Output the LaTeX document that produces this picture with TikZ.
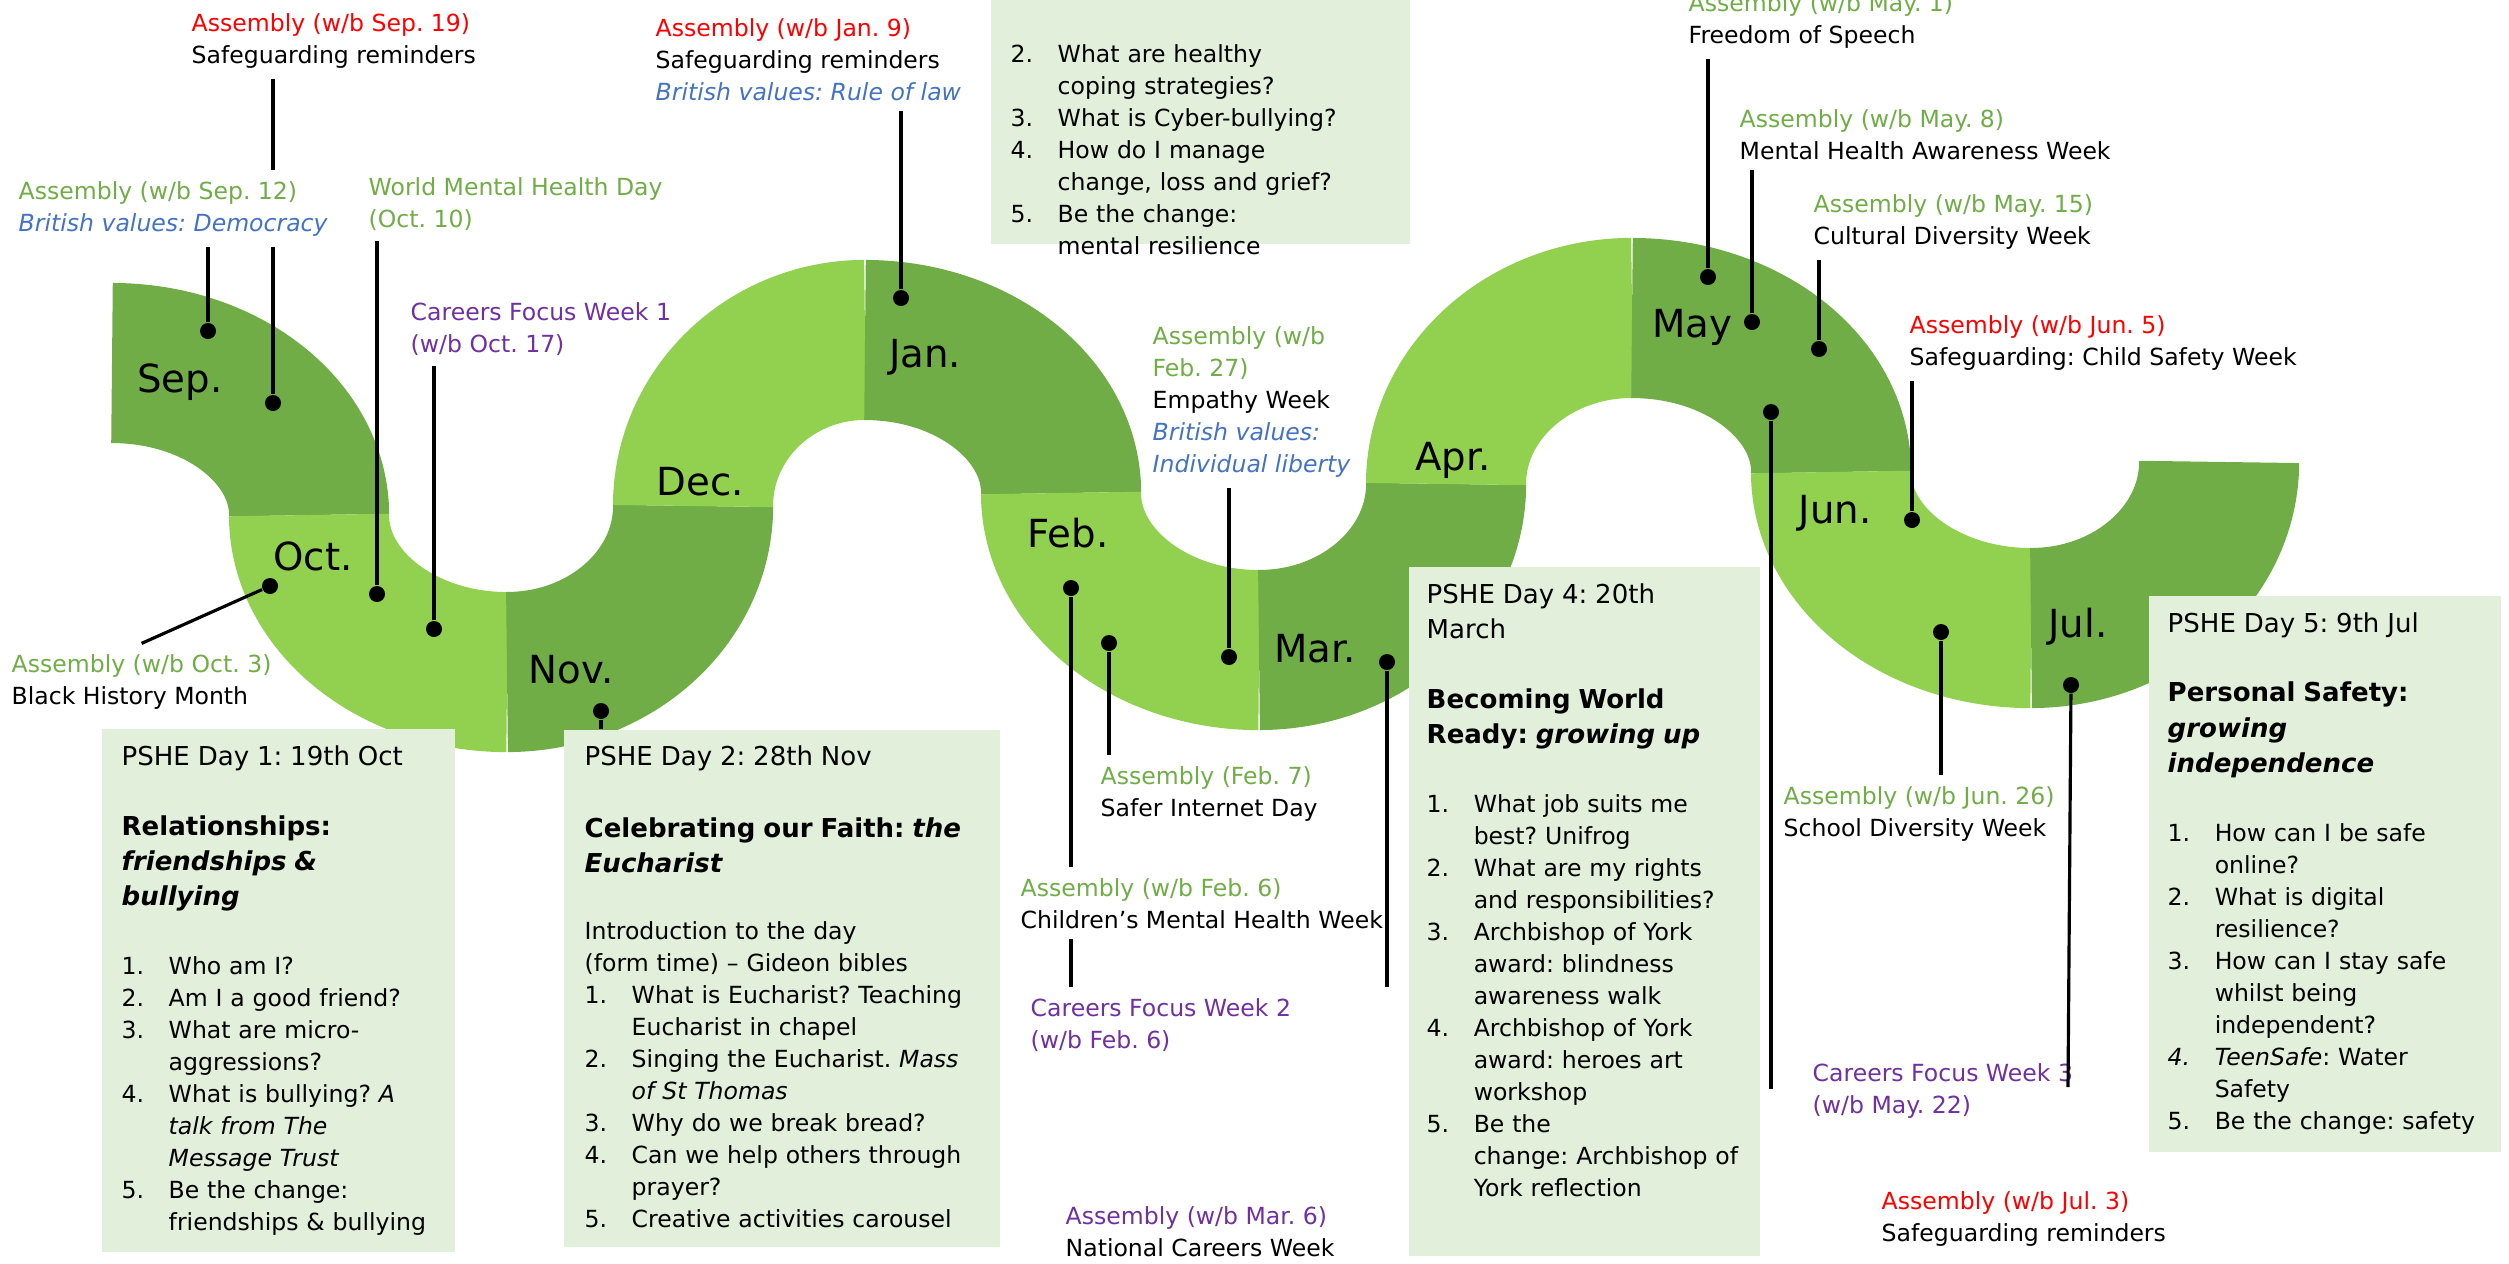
\documentclass[tikz,border=0pt]{standalone}
\usepackage{fontspec}
\setmainfont{DejaVu Sans}
\usepackage{enumitem}
\usepackage{tikz}

\definecolor{darkg}{HTML}{70AD47}
\definecolor{lightg}{HTML}{92D050}
\definecolor{boxg}{HTML}{E2EFDA}
\definecolor{asmgreen}{HTML}{70AD47}
\definecolor{asmred}{HTML}{FF0000}
\definecolor{valblue}{HTML}{4472C4}
\definecolor{carpurple}{HTML}{7030A0}

\newcommand{\smalltxt}{\fontsize{6.7pt}{9.1pt}\selectfont}
\newcommand{\titletxt}{\fontsize{7.4pt}{10pt}\selectfont}
\newcommand{\asmg}[1]{\textcolor{asmgreen}{#1}}
\newcommand{\asmr}[1]{\textcolor{asmred}{#1}}
\newcommand{\valb}[1]{\textcolor{valblue}{\itshape #1}}
\newcommand{\carp}[1]{\textcolor{carpurple}{#1}}

\setlist[enumerate]{leftmargin=0.47cm,labelwidth=0.47cm,labelsep=0pt,labelindent=0pt,align=left,itemsep=0pt,parsep=0pt,topsep=0pt,partopsep=0pt}
\frenchspacing

\begin{document}
\begin{tikzpicture}[x=0.01cm,y=-0.01cm,
	band/.style={draw=#1,line width=1.6cm},
	monthlbl/.style={anchor=base,font=\fontsize{11pt}{13pt}\selectfont},
	evt/.style={anchor=base west,align=left,inner xsep=0pt,inner ysep=0.1cm,font=\smalltxt},
	evdot/.style={circle,fill=black,inner sep=0pt,minimum size=0.16cm},
	pshebox/.style={fill=boxg,anchor=north west,inner sep=0pt},
	pshetext/.style={anchor=base west,inner sep=0pt,align=left,font=\smalltxt},
	conn/.style={line width=0.9pt}]

	\useasboundingbox (0,0) rectangle (2509,1263);
	\clip (0,0) rectangle (2509,1263);

	% the year as a wave
	\draw[band=darkg] (112,363) arc[start angle=90,end angle=0,x radius=1.97cm,y radius=1.52cm];
	\draw[band=lightg] (309,515) arc[start angle=180,end angle=270,x radius=1.98cm,y radius=1.57cm];
	\draw[band=darkg] (507,672) arc[start angle=270,end angle=360,x radius=1.86cm,y radius=1.66cm];
	\draw[band=lightg] (693,506) arc[start angle=180,end angle=90,x radius=1.72cm,y radius=1.66cm];
	\draw[band=darkg] (865,340) arc[start angle=90,end angle=0,x radius=1.96cm,y radius=1.53cm];
	\draw[band=lightg] (1061,493) arc[start angle=180,end angle=270,x radius=1.98cm,y radius=1.57cm];
	\draw[band=darkg] (1259,650) arc[start angle=270,end angle=360,x radius=1.87cm,y radius=1.66cm];
	\draw[band=lightg] (1446,484) arc[start angle=180,end angle=90,x radius=1.86cm,y radius=1.66cm];
	\draw[band=darkg] (1632,318) arc[start angle=90,end angle=0,x radius=1.99cm,y radius=1.54cm];
	\draw[band=lightg] (1831,472) arc[start angle=180,end angle=270,x radius=2.00cm,y radius=1.56cm];
	\draw[band=darkg] (2031,628) arc[start angle=270,end angle=360,x radius=1.88cm,y radius=1.66cm];

	\begin{scope}[every node/.style={monthlbl}]
		\node (mSep) at (180,392) {Sep.};
		\node (mOct) at (313,570) {Oct.};
		\node (mNov) at (571,683) {Nov.};
		\node (mDec) at (700,495) {Dec.};
		\node (mJan) at (925,367) {Jan.};
		\node (mFeb) at (1068,547) {Feb.};
		\node (mMar) at (1315,662) {Mar.};
		\node (mApr) at (1453,470) {Apr.};
		\node (mMay) at (1692,337) {May};
		\node (mJun) at (1835,523) {Jun.};
		\node (mJul) at (2078,637) {Jul.};
	\end{scope}

	% PSHE days
	\node[pshebox,minimum width=3.53cm,minimum height=5.23cm] (b1) at (101,728) {};
	\node[pshebox,minimum width=4.36cm,minimum height=5.17cm] (b2) at (563,729) {};
	\node[pshebox,minimum width=4.19cm,minimum height=2.93cm] (b3) at (990,-50) {};
	\node[pshebox,minimum width=3.51cm,minimum height=6.89cm] (b4) at (1408,566) {};
	\node[pshebox,minimum width=3.52cm,minimum height=5.56cm] (b5) at (2148,595) {};

	\node[pshetext,text width=3.3cm] (t1) at (121,765) {%
		{\titletxt PSHE Day 1: 19th Oct\par}
		\vspace{9.9pt}
		{\titletxt\bfseries Relationships:\\ \itshape friendships \&\\ bullying\par}
		\vspace{10.5pt}
		\begin{enumerate}
			\item Who am I?
			\item Am I a good friend?
			\item What are micro-\newline aggressions?
			\item What is bullying? \textit{A\newline talk from The\newline Message Trust}
			\item Be the change:\newline friendships \& bullying
		\end{enumerate}};

	\node[pshetext,text width=4.1cm] (t2) at (584,765) {%
		{\titletxt PSHE Day 2: 28th Nov\par}
		\vspace{10.5pt}
		{\titletxt\bfseries Celebrating our Faith: \textit{the}\\ \textit{Eucharist}\par}
		\vspace{9.9pt}
		Introduction to the day\newline (form time) -- Gideon bibles\par
		\begin{enumerate}
			\item What is Eucharist? Teaching\newline Eucharist in chapel
			\item Singing the Eucharist. \textit{Mass\newline of St Thomas}
			\item Why do we break bread?
			\item Can we help others through\newline prayer?
			\item Creative activities carousel
		\end{enumerate}};

	\node[pshetext,text width=3.95cm] (t3) at (1010,30) {%
		\begin{enumerate}[start=2]
			\item What are healthy\newline coping strategies?
			\item What is Cyber-bullying?
			\item How do I manage\newline change, loss and grief?
			\item Be the change:\newline mental resilience
		\end{enumerate}};

	\node[pshetext,text width=3.3cm] (t4) at (1426,603) {%
		{\titletxt PSHE Day 4: 20th\\ March\par}
		\vspace{9.9pt}
		{\titletxt\bfseries Becoming World\\ Ready: \textit{growing up}\par}
		\vspace{10.5pt}
		\begin{enumerate}
			\item What job suits me\newline best? Unifrog
			\item What are my rights\newline and responsibilities?
			\item Archbishop of York\newline award: blindness\newline awareness walk
			\item Archbishop of York\newline award: heroes art\newline workshop
			\item Be the\newline change: Archbishop of\newline York reflection
		\end{enumerate}};

	\node[pshetext,text width=3.3cm] (t5) at (2167,632) {%
		{\titletxt PSHE Day 5: 9th Jul\par}
		\vspace{9.9pt}
		{\titletxt\bfseries Personal Safety:\\ \textit{growing}\\ \textit{independence}\par}
		\vspace{10.5pt}
		\begin{enumerate}
			\item How can I be safe\newline online?
			\item What is digital\newline resilience?
			\item How can I stay safe\newline whilst being\newline independent?
			\stepcounter{enumi}\item[\textit{4.}] \textit{TeenSafe}: Water\newline Safety
			\item Be the change: safety
		\end{enumerate}};

	% events (placed at the baseline of their last line)
	\node[evt] (lSep19) at (191,63) {\asmr{Assembly (w/b Sep. 19)}\\Safeguarding reminders};
	\node[evt] (lSep12) at (18,231) {\asmg{Assembly (w/b Sep. 12)}\\\valb{British values: Democracy}};
	\node[evt] (lWMHD) at (368,227) {\asmg{World Mental Health Day}\\\asmg{(Oct. 10)}};
	\node[evt] (lCFW1) at (410,352) {\carp{Careers Focus Week 1}\\\carp{(w/b Oct. 17)}};
	\node[evt] (lOct3) at (11,704) {\asmg{Assembly (w/b Oct. 3)}\\Black History Month};
	\node[evt] (lJan9) at (655,100) {\asmr{Assembly (w/b Jan. 9)}\\Safeguarding reminders\\\valb{British values: Rule of law}};
	\node[evt] (lFeb27) at (1152,472) {\asmg{Assembly (w/b}\\\asmg{Feb. 27)}\\Empathy Week\\\valb{British values:}\\\valb{Individual liberty}};
	\node[evt] (lMay1) at (1688,43) {\asmg{Assembly (w/b May. 1)}\\Freedom of Speech};
	\node[evt] (lMay8) at (1739,159) {\asmg{Assembly (w/b May. 8)}\\Mental Health Awareness Week};
	\node[evt] (lMay15) at (1813,244) {\asmg{Assembly (w/b May. 15)}\\Cultural Diversity Week};
	\node[evt] (lJun5) at (1909,365) {\asmr{Assembly (w/b Jun. 5)}\\Safeguarding: Child Safety Week};
	\node[evt] (lFeb7) at (1100,816) {\asmg{Assembly (Feb. 7)}\\Safer Internet Day};
	\node[evt] (lFeb6) at (1020,928) {\asmg{Assembly (w/b Feb. 6)}\\Children's Mental Health Week};
	\node[evt] (lCFW2) at (1030,1048) {\carp{Careers Focus Week 2}\\\carp{(w/b Feb. 6)}};
	\node[evt] (lMar6) at (1065,1256) {\carp{Assembly (w/b Mar. 6)}\\National Careers Week};
	\node[evt] (lJun26) at (1783,836) {\asmg{Assembly (w/b Jun. 26)}\\School Diversity Week};
	\node[evt] (lCFW3) at (1812,1113) {\carp{Careers Focus Week 3}\\\carp{(w/b May. 22)}};
	\node[evt] (lJul3) at (1881,1241) {\asmr{Assembly (w/b Jul. 3)}\\Safeguarding reminders};

	% dots on the wave
	\node[evdot] (dSep12) at (208,331) {};
	\node[evdot] (dSep19) at (273,403) {};
	\node[evdot] (dOct3) at (270,586) {};
	\node[evdot] (dOct10) at (377,594) {};
	\node[evdot] (dOct17) at (434,629) {};
	\node[evdot] (dNov) at (601,711) {};
	\node[evdot] (dJan9) at (901,298) {};
	\node[evdot] (dFeb6) at (1071,588) {};
	\node[evdot] (dFeb7) at (1109,643) {};
	\node[evdot] (dFeb27) at (1229,657) {};
	\node[evdot] (dMar6) at (1387,662) {};
	\node[evdot] (dMay1) at (1708,277) {};
	\node[evdot] (dMay8) at (1752,322) {};
	\node[evdot] (dMay15) at (1819,349) {};
	\node[evdot] (dMay22) at (1771,412) {};
	\node[evdot] (dJun5) at (1912,520) {};
	\node[evdot] (dJun26) at (1941,632) {};
	\node[evdot] (dJul3) at (2071,685) {};

	\coordinate (eMar6) at (1387,987);
	\coordinate (eMay22) at (1771,1089);
	\coordinate (eJul3) at (2068,1087);

	\begin{scope}[conn]
	\draw (dSep12) -- (dSep12 |- lSep12.south);
	\draw (dSep19 |- lSep19.south) -- (dSep19 |- lSep12.north);
	\draw (dSep19 |- lSep12.south) -- (dSep19);
	\draw (dOct3) -- (lOct3.north);
	\draw (dOct10) -- (dOct10 |- lWMHD.south);
	\draw (dOct17) -- (dOct17 |- lCFW1.south);
	\draw (dNov) -- (dNov |- b2.north);
	\draw (dJan9) -- (dJan9 |- lJan9.south);
	\draw (dFeb6) -- (dFeb6 |- lFeb6.north);
	\draw (dFeb6 |- lFeb6.south) -- (dFeb6 |- lCFW2.north);
	\draw (dFeb7) -- (dFeb7 |- lFeb7.north);
	\draw (dFeb27) -- (dFeb27 |- lFeb27.south);
	\draw (dMar6) -- (eMar6);
	\draw (dMay1) -- (dMay1 |- lMay1.south);
	\draw (dMay8) -- (dMay8 |- lMay8.south);
	\draw (dMay15) -- (dMay15 |- lMay15.south);
	\draw (dMay22) -- (eMay22);
	\draw (dJun5) -- (dJun5 |- lJun5.south);
	\draw (dJun26) -- (dJun26 |- lJun26.north);
	\draw (dJul3) -- (eJul3);
	\end{scope}
\end{tikzpicture}
\end{document}
